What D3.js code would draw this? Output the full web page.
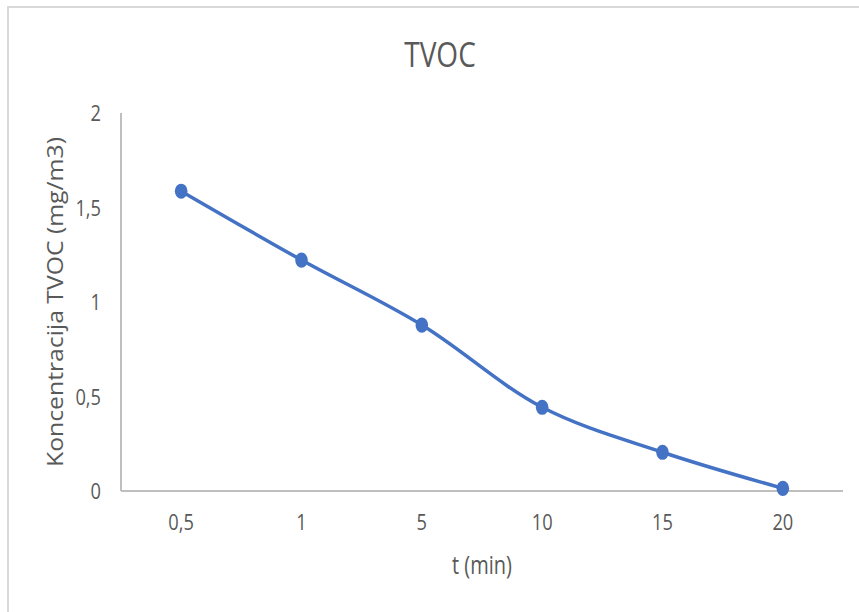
<!DOCTYPE html>
<html><head><meta charset="utf-8">
<script src="https://cdn.jsdelivr.net/npm/d3@7"></script>
<style>body{margin:0;background:#fff}</style>
</head><body>
<svg id="c" width="859" height="612"></svg>
<script>
const categories = ["0,5", "1", "5", "10", "15", "20"];
const values = [1.586, 1.222, 0.878, 0.443, 0.205, 0.014];
const yTicks = [0, 0.5, 1, 1.5, 2];
const yTickLabels = ["0", "0,5", "1", "1,5", "2"];
const titleText = "TVOC";
const xTitle = "t (min)";
const yTitle = "Koncentracija TVOC (mg/m3)";

const svg = d3.select("#c");
const FONT = "'Open Sans', 'Noto Sans', sans-serif";
const GREY = "#595959";
const M = {left: 121, right: 843, top: 113, bottom: 491};
const SX = 0.83; // horizontal condensation of the text

// outer frame
svg.append("path").attr("d", "M8,612 L8,7 L859,7")
  .attr("fill", "none").attr("stroke", "#d9d9d9").attr("stroke-width", 2);

const x = d3.scalePoint().domain(categories).range([M.left, M.right]).padding(0.5);
const y = d3.scaleLinear().domain([0, 2]).range([M.bottom, M.top]);

// axes lines
svg.append("line").attr("x1", M.left).attr("x2", M.left).attr("y1", M.top).attr("y2", M.bottom)
  .attr("stroke", "#bfbfbf").attr("stroke-width", 2);
svg.append("line").attr("x1", M.left).attr("x2", M.right).attr("y1", M.bottom).attr("y2", M.bottom)
  .attr("stroke", "#bfbfbf").attr("stroke-width", 2.2);

function label(g, tx, ty, txt, size, anchor, rot, sx) {
  return g.append("text")
    .attr("transform", `translate(${tx},${ty})${rot ? " rotate(" + rot + ")" : ""} scale(${sx},1)`)
    .attr("text-anchor", anchor).attr("font-family", FONT).attr("font-size", size)
    .attr("fill", GREY).text(txt);
}

// y tick labels
const gy = svg.append("g");
yTicks.forEach((v, i) => label(gy, 101, y(v) + 8, yTickLabels[i], 22, "end", 0, SX));

// x tick labels
const gx = svg.append("g");
categories.forEach(c => label(gx, x(c), 530, c, 22, "middle", 0, SX));

// title
label(svg, 440, 67, titleText, 35, "middle", 0, 0.8);

// x axis title
label(svg, 482, 574, xTitle, 25, "middle", 0, 0.8);

// y axis title: fit length to reference
const yt = label(svg, 63, 302, yTitle, 21, "middle", -90, 1);
const len = yt.node().getComputedTextLength();
yt.attr("transform", `translate(63,302) rotate(-90) scale(${330 / len},1)`);

const data = categories.map((c, i) => ({c, v: values[i]}));
const line = d3.line().x(d => x(d.c)).y(d => y(d.v)).curve(d3.curveCatmullRom.alpha(0.5));
svg.append("path").datum(data).attr("d", line).attr("fill", "none")
  .attr("stroke", "#4472c4").attr("stroke-width", 3.5).attr("stroke-linejoin", "round");
svg.append("g").selectAll("ellipse").data(data).join("ellipse")
  .attr("cx", d => x(d.c)).attr("cy", d => y(d.v)).attr("rx", 6.3).attr("ry", 7.6)
  .attr("fill", "#4472c4");
</script>
</body></html>
